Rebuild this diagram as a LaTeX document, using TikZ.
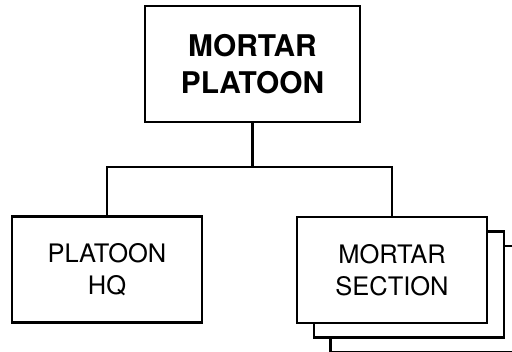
\documentclass[tikz,border=0pt]{standalone}
\usepackage{fontspec}
\setmainfont{TeX Gyre Heros}
\usetikzlibrary{positioning,calc}

\begin{document}
\begin{tikzpicture}[
  x=0.02cm, y=-0.02cm,
  unit/.style={
    rectangle, draw=black, fill=white, line width=1.3pt,
    text centered, align=center, inner sep=0pt
  },
  topunit/.style={
    unit, minimum width=4.3cm, minimum height=2.32cm,
    font=\fontsize{17}{21}\selectfont\bfseries
  },
  subunit/.style={
    unit, minimum width=3.8cm, minimum height=2.12cm,
    font=\fontsize{14.5}{18}\selectfont
  },
  link/.style={
    line width=1.3pt, black
  }
]

\useasboundingbox (0,0) rectangle (512,352);
\clip (0,0) rectangle (512,352);

% ==================== UNITS ====================

% Platoon (top center)
\node (platoon) [topunit] at (252.5, 64) {MORTAR\\PLATOON};

% Platoon HQ (bottom left)
\node (hq) [subunit] at (107, 269.5) {PLATOON\\HQ};

% Mortar sections (bottom right) - stacked, rear copies first
\node (section3) [subunit] at (425.5, 299) {};
\node (section2) [subunit] at (409, 284.5) {};
\node (section) [subunit] at (392, 270) {MORTAR\\SECTION};

% ==================== LINKS ====================

\coordinate (bus) at ($(platoon.south)+(0,44)$);

\draw [link] (platoon.south) -- (bus);
\draw [link] (bus) -| (hq.north);
\draw [link] (bus) -| (section.north);

\end{tikzpicture}
\end{document}
